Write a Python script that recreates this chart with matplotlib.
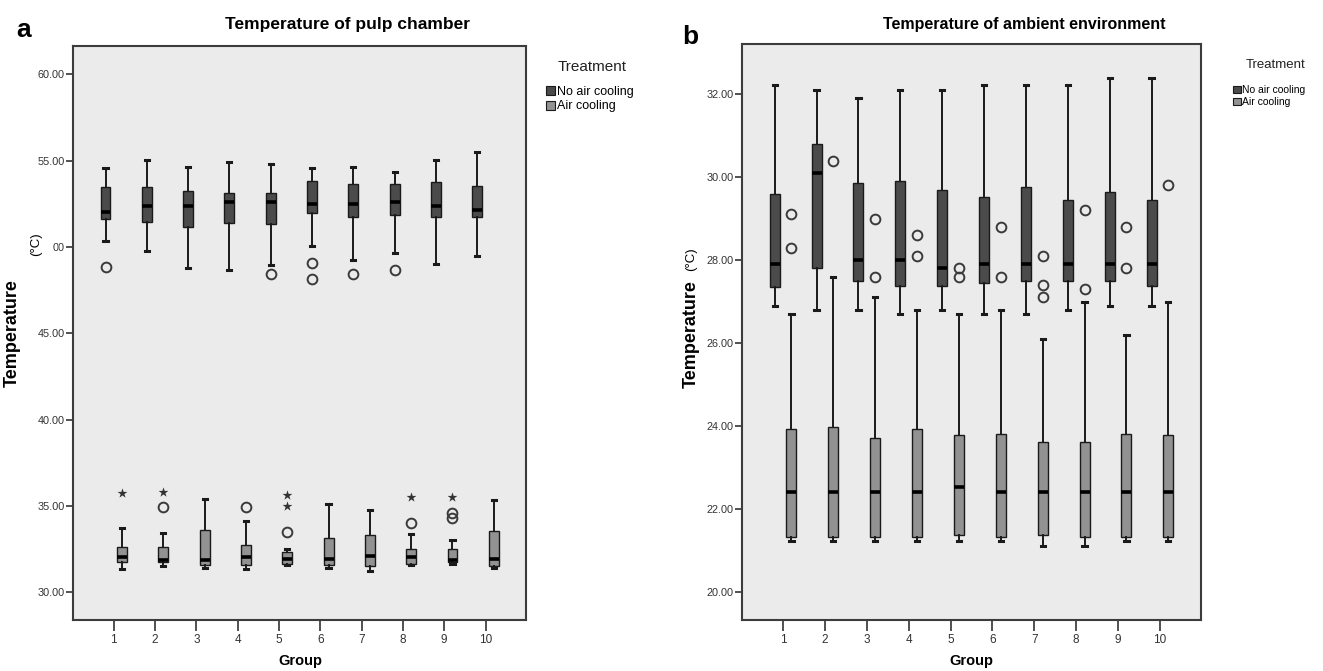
import matplotlib

matplotlib.use("Agg")
import matplotlib.pyplot as plt
from matplotlib.patches import Patch

plt.rcParams["font.family"] = ["Liberation Sans", "DejaVu Sans"]

W, H = 1323, 671

groups = list(range(1, 11))
series_names = ["No air cooling", "Air cooling"]
series_colors = ["#4b4b4b", "#929292"]

# panel a - temperature of pulp chamber, no air cooling
pulp_no_whislo = [50.36, 49.79, 48.78, 48.68, 48.97, 50.06, 49.27, 49.68, 48.99, 49.47]
pulp_no_q1 = [51.62, 51.43, 51.13, 51.37, 51.35, 51.95, 51.74, 51.83, 51.74, 51.74]
pulp_no_med = [52.0, 52.35, 52.35, 52.58, 52.58, 52.48, 52.48, 52.58, 52.35, 52.16]
pulp_no_q3 = [53.45, 53.45, 53.24, 53.13, 53.13, 53.84, 53.65, 53.65, 53.74, 53.55]
pulp_no_whishi = [54.58, 55.04, 54.64, 54.94, 54.83, 54.56, 54.64, 54.35, 55.04, 55.53]
pulp_no_out = [[48.85], [], [], [], [48.45], [49.06, 48.15], [48.45], [48.66], [], []]
pulp_no_ext = [[], [], [], [], [], [], [], [], [], []]

# panel a - air cooling
pulp_air_whislo = [31.37, 31.54, 31.44, 31.33, 31.56, 31.44, 31.25, 31.58, 31.63, 31.44]
pulp_air_q1 = [31.73, 31.73, 31.60, 31.60, 31.62, 31.60, 31.52, 31.62, 31.73, 31.52]
pulp_air_med = [32.04, 31.87, 31.90, 32.02, 31.94, 31.94, 32.13, 32.04, 31.87, 31.94]
pulp_air_q3 = [32.63, 32.62, 33.63, 32.75, 32.35, 33.12, 33.33, 32.52, 32.52, 33.54]
pulp_air_whishi = [33.73, 33.44, 35.42, 34.13, 32.52, 35.13, 34.75, 33.40, 33.02, 35.33]
pulp_air_out = [[], [34.92], [], [34.92], [33.52], [], [], [34.02], [34.62, 34.31], []]
pulp_air_ext = [[35.75], [35.83], [], [], [35.63, 35.0], [], [], [35.52], [35.52], []]

# panel b - temperature of ambient environment, no air cooling
amb_no_whislo = [26.89, 26.79, 26.79, 26.69, 26.79, 26.69, 26.69, 26.79, 26.89, 26.89]
amb_no_q1 = [27.34, 27.80, 27.50, 27.38, 27.38, 27.44, 27.50, 27.50, 27.50, 27.38]
amb_no_med = [27.9, 30.1, 28.0, 28.0, 27.8, 27.9, 27.9, 27.9, 27.9, 27.9]
amb_no_q3 = [29.60, 30.80, 29.85, 29.90, 29.70, 29.51, 29.77, 29.45, 29.65, 29.45]
amb_no_whishi = [32.21, 32.11, 31.90, 32.11, 32.11, 32.21, 32.21, 32.21, 32.40, 32.40]
amb_no_out = [[], [], [], [], [], [], [], [], [], []]
amb_no_ext = [[], [], [], [], [], [], [], [], [], []]

# panel b - air cooling
amb_air_whislo = [21.23, 21.23, 21.23, 21.23, 21.23, 21.23, 21.10, 21.10, 21.23, 21.23]
amb_air_q1 = [21.31, 21.31, 21.31, 21.31, 21.36, 21.31, 21.36, 21.31, 21.31, 21.31]
amb_air_med = [22.41, 22.41, 22.41, 22.41, 22.52, 22.41, 22.41, 22.41, 22.41, 22.41]
amb_air_q3 = [23.92, 23.97, 23.72, 23.92, 23.77, 23.81, 23.62, 23.62, 23.81, 23.77]
amb_air_whishi = [26.69, 27.60, 27.10, 26.79, 26.69, 26.79, 26.09, 26.99, 26.19, 26.99]
amb_air_out = [[29.1, 28.3], [30.4], [28.99, 27.6], [28.6, 28.1], [27.8, 27.6],
               [28.8, 27.6], [28.1, 27.4, 27.1], [29.2, 27.3], [28.8, 27.8], [29.8]]
amb_air_ext = [[], [], [], [], [], [], [], [], [], []]

pulp_yticks = [30, 35, 40, 45, 50, 55, 60]
# the 50.00 label is partly hidden behind the unit text in the original
pulp_yticklabels = ["30.00", "35.00", "40.00", "45.00", "00", "55.00", "60.00"]
amb_yticks = [20, 22, 24, 26, 28, 30, 32]
amb_yticklabels = ["20.00", "22.00", "24.00", "26.00", "28.00", "30.00", "32.00"]


def make_stats(whislo, q1, med, q3, whishi, out):
    return [
        dict(whislo=a, q1=b, med=c, q3=d, whishi=e, fliers=f)
        for a, b, c, d, e, f in zip(whislo, q1, med, q3, whishi, out)
    ]


def draw_panel(ax, series, yticks, yticklabels, ylim):
    ax.set_facecolor("#ebebeb")
    offsets = [-0.2, 0.2]
    for (stats, ext), off, color in zip(series, offsets, series_colors):
        pos = [g + off for g in groups]
        ax.bxp(
            stats,
            positions=pos,
            widths=0.24,
            capwidths=0.1,
            patch_artist=True,
            manage_ticks=False,
            boxprops=dict(facecolor=color, edgecolor="#1a1a1a", linewidth=1.0),
            medianprops=dict(color="black", linewidth=2.6, solid_capstyle="butt"),
            whiskerprops=dict(color="#1a1a1a", linewidth=1.4),
            capprops=dict(color="#1a1a1a", linewidth=2.2),
            flierprops=dict(marker="o", markersize=7, markerfacecolor="none",
                            markeredgecolor="#3a3a3a", markeredgewidth=1.4),
        )
        for p, vals in zip(pos, ext):
            if vals:
                ax.scatter([p] * len(vals), vals, marker="*", s=55,
                           color="#333333", zorder=4, linewidths=0)
    ax.set_xlim(0.02, 10.98)
    ax.set_ylim(*ylim)
    ax.set_xticks(groups)
    ax.set_xticklabels([str(g) for g in groups])
    ax.set_yticks(yticks)
    ax.set_yticklabels(yticklabels)
    ax.tick_params(axis="y", direction="out", length=5, width=1.2, pad=1,
                   labelsize=7.8, colors="#333333")
    ax.tick_params(axis="x", direction="out", length=8, width=1.2, pad=2,
                   labelsize=8.5, colors="#333333")
    for s in ax.spines.values():
        s.set_color("#3c3c3c")
        s.set_linewidth(1.5)


def fx(px):
    return px / W


def fy(py):
    return 1 - py / H


fig = plt.figure(figsize=(W / 100, H / 100), dpi=100)

ax1 = fig.add_axes((fx(73.3), fy(620), 452.7 / W, 574 / H))
draw_panel(
    ax1,
    [
        (make_stats(pulp_no_whislo, pulp_no_q1, pulp_no_med, pulp_no_q3, pulp_no_whishi, pulp_no_out), pulp_no_ext),
        (make_stats(pulp_air_whislo, pulp_air_q1, pulp_air_med, pulp_air_q3, pulp_air_whishi, pulp_air_out), pulp_air_ext),
    ],
    pulp_yticks,
    pulp_yticklabels,
    (28.4, 61.64),
)

ax2 = fig.add_axes((fx(742), fy(620), 459 / W, 576 / H))
draw_panel(
    ax2,
    [
        (make_stats(amb_no_whislo, amb_no_q1, amb_no_med, amb_no_q3, amb_no_whishi, amb_no_out), amb_no_ext),
        (make_stats(amb_air_whislo, amb_air_q1, amb_air_med, amb_air_q3, amb_air_whishi, amb_air_out), amb_air_ext),
    ],
    amb_yticks,
    amb_yticklabels,
    (19.32, 33.21),
)

# titles and panel letters
fig.text(fx(348), fy(24), "Temperature of pulp chamber", ha="center", va="center",
         fontsize=12.5, fontweight="bold")
fig.text(fx(1024), fy(24), "Temperature of ambient environment", ha="center", va="center",
         fontsize=11.5, fontweight="bold")
fig.text(fx(24), fy(30), "a", ha="center", va="center", fontsize=19, fontweight="bold")
fig.text(fx(690), fy(37), "b", ha="center", va="center", fontsize=19, fontweight="bold")

# axis labels
fig.text(fx(300), fy(661), "Group", ha="center", va="center", fontsize=10.5, fontweight="bold")
fig.text(fx(971), fy(661), "Group", ha="center", va="center", fontsize=10.5, fontweight="bold")
fig.text(fx(12), fy(333), "Temperature", rotation=90, ha="center", va="center",
         fontsize=13, fontweight="bold")
fig.text(fx(36), fy(244), "(°C)", rotation=90, ha="center", va="center", fontsize=9.5)
fig.text(fx(691), fy(334), "Temperature", rotation=90, ha="center", va="center",
         fontsize=13, fontweight="bold")
fig.text(fx(691), fy(259), "(°C)", rotation=90, ha="center", va="center", fontsize=9.5)

# legends
handles = [Patch(facecolor=c, edgecolor="#1a1a1a", linewidth=0.8) for c in series_colors]
for title_x, title_y, sq_x, row_y, tsize, isize in ((592, 67, 546, 86, 11, 9),
                                                   (1276, 65, 1233, 85, 9.5, 7.5)):
    fig.text(fx(title_x), fy(title_y), "Treatment", ha="center", va="center",
             fontsize=tsize, color="#222222")
    fig.legend(handles, series_names, loc="upper left", bbox_to_anchor=(fx(sq_x), fy(row_y)),
               frameon=False, fontsize=isize, handlelength=0.75, handleheight=0.75,
               handletextpad=0.15, labelspacing=0.2, borderpad=0, borderaxespad=0)

fig.savefig("out.png", dpi=100)
